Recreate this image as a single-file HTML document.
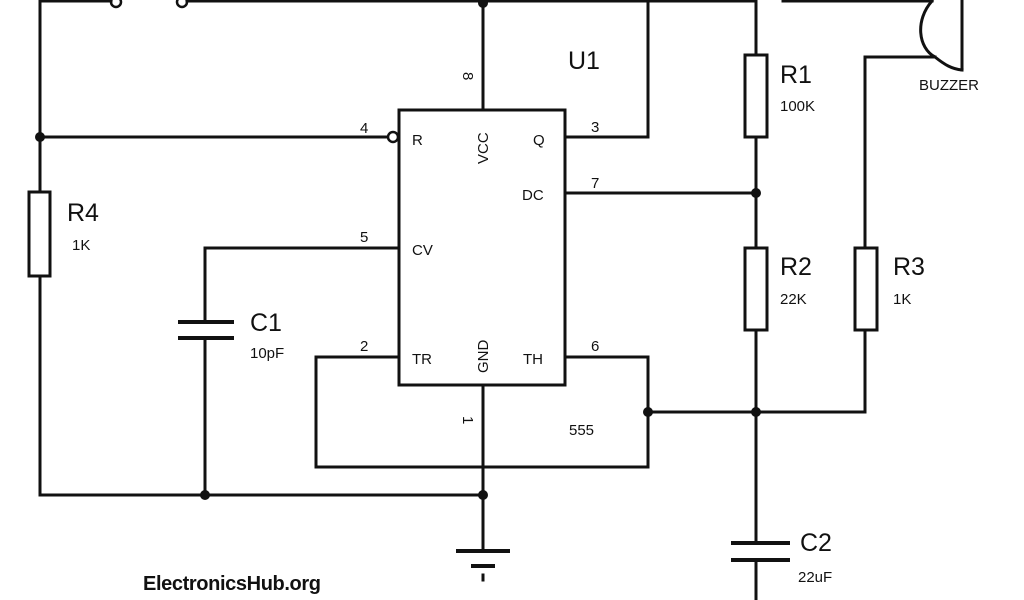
<!DOCTYPE html>
<html><head><style>
html,body{margin:0;padding:0;background:#fff;}
svg{display:block;}
text{font-family:"Liberation Sans",Arial,sans-serif;fill:#111;}
</style></head><body>
<svg width="1024" height="600" viewBox="0 0 1024 600" xmlns="http://www.w3.org/2000/svg">
<g stroke="#111" stroke-width="3" fill="none" stroke-linecap="square">
<!-- top wire -->
<polyline points="40,495 40,1 111,1"/>
<circle cx="116" cy="2" r="5" stroke-width="2.5"/>
<circle cx="182" cy="2" r="5" stroke-width="2.5"/>
<line x1="187" y1="1" x2="756" y2="1"/>
<!-- pin 8 -->
<line x1="483" y1="1" x2="483" y2="110"/>
<!-- IC -->
<rect x="399" y="110" width="166" height="275"/>
<!-- pin 4 -->
<line x1="40" y1="137" x2="387" y2="137"/>
<circle cx="393" cy="137" r="5" stroke-width="2.5"/>
<!-- pin 3 -->
<polyline points="565,137 648,137 648,1"/>
<!-- R1/R2 vertical -->
<line x1="756" y1="1" x2="756" y2="600"/>
<rect x="745" y="55" width="22" height="82" fill="#fff"/>
<rect x="745" y="248" width="22" height="82" fill="#fff"/>
<!-- pin 7 -->
<line x1="565" y1="193" x2="756" y2="193"/>
<!-- R4 -->
<rect x="29" y="192" width="21" height="84" fill="#fff"/>
<!-- pin 5 / C1 -->
<polyline points="398,248 205,248 205,322"/>
<line x1="205" y1="338" x2="205" y2="495"/>
<line x1="180" y1="322" x2="232" y2="322" stroke-width="4"/>
<line x1="180" y1="338" x2="232" y2="338" stroke-width="4"/>
<!-- pin 2 / pin 6 loop -->
<polyline points="398,357 316,357 316,467 648,467 648,357 565,357"/>
<line x1="648" y1="412" x2="865" y2="412"/>
<!-- R3 and buzzer -->
<polyline points="865,412 865,57 935,57"/>
<rect x="855" y="248" width="22" height="82" fill="#fff"/>
<line x1="783" y1="1" x2="932" y2="1"/>
<path d="M932,1 C915,20 918,48 935,57 C945,65 952,69 962,70" />
<line x1="962" y1="0" x2="962" y2="70"/>
<!-- GND -->
<line x1="483" y1="385" x2="483" y2="550"/>
<line x1="40" y1="495" x2="483" y2="495"/>
<line x1="458" y1="551" x2="508" y2="551" stroke-width="4"/>
<line x1="473" y1="566" x2="493" y2="566" stroke-width="4"/>
<line x1="483" y1="575" x2="483" y2="580" stroke-width="3"/>
<!-- C2 -->
<line x1="733" y1="543" x2="788" y2="543" stroke-width="4"/>
<line x1="733" y1="560" x2="788" y2="560" stroke-width="4"/>
</g>
<rect x="740" y="545" width="40" height="13" fill="#fff"/>
<g fill="#111">
<circle cx="483" cy="3" r="5"/>
<circle cx="40" cy="137" r="5"/>
<circle cx="756" cy="193" r="5"/>
<circle cx="648" cy="412" r="5"/>
<circle cx="756" cy="412" r="5"/>
<circle cx="205" cy="495" r="5"/>
<circle cx="483" cy="495" r="5"/>
</g>
<g font-size="15">
<text x="360" y="133">4</text>
<text x="412" y="145">R</text>
<text x="533" y="145">Q</text>
<text x="591" y="132">3</text>
<text x="522" y="200">DC</text>
<text x="591" y="188">7</text>
<text x="360" y="242">5</text>
<text x="412" y="255">CV</text>
<text x="360" y="351">2</text>
<text x="412" y="364">TR</text>
<text x="523" y="364">TH</text>
<text x="591" y="351">6</text>
<text x="569" y="435">555</text>
<text transform="translate(488,164) rotate(-90)">VCC</text>
<text transform="translate(488,373) rotate(-90)">GND</text>
<text transform="translate(463,72) rotate(90)">8</text>
<text transform="translate(463,416) rotate(90)">1</text>
<text x="72" y="250">1K</text>
<text x="250" y="358">10pF</text>
<text x="780" y="111">100K</text>
<text x="780" y="304">22K</text>
<text x="893" y="304">1K</text>
<text x="798" y="582">22uF</text>
<text x="919" y="90">BUZZER</text>
</g>
<g font-size="25">
<text x="568" y="69">U1</text>
<text x="67" y="221">R4</text>
<text x="250" y="331">C1</text>
<text x="780" y="83">R1</text>
<text x="780" y="275">R2</text>
<text x="893" y="275">R3</text>
<text x="800" y="551">C2</text>
</g>
<text x="143" y="590" font-size="20" font-weight="bold" style="font-family:'Liberation Sans Narrow','Liberation Sans',sans-serif" textLength="178">ElectronicsHub.org</text>
</svg>
</body></html>
